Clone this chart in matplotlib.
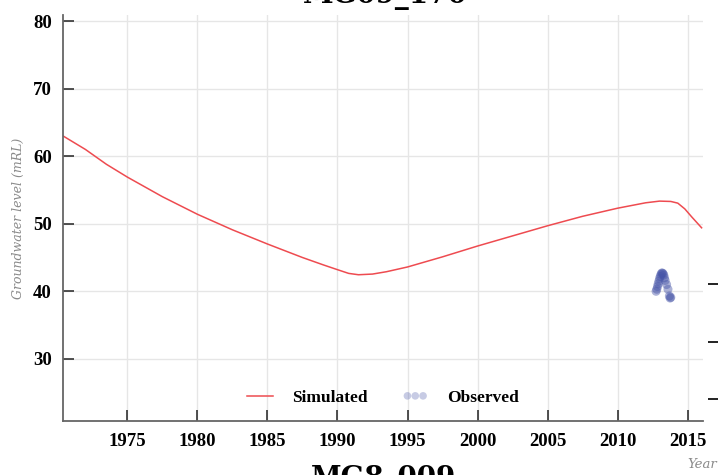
import numpy as np
import matplotlib.pyplot as plt

# simulated groundwater level
sim_years = [1970.4, 1972, 1973.5, 1975, 1977.5, 1980, 1982.5, 1985, 1987.5, 1989, 1990,
             1990.8, 1991.5, 1992.5, 1993.5, 1995, 1997.5, 2000, 2002.5, 2005, 2007.5,
             2010, 2012, 2013, 2013.8, 2014.3, 2014.8, 2015.3, 2016]
sim_level = [63.0, 61.0, 58.8, 56.9, 54.0, 51.4, 49.1, 47.0, 45.0, 43.9, 43.2,
             42.65, 42.45, 42.55, 42.9, 43.6, 45.1, 46.7, 48.2, 49.7, 51.1,
             52.3, 53.1, 53.35, 53.3, 53.05, 52.2, 51.0, 49.4]

# observed points
obs_years = [2012.75, 2012.8, 2012.85, 2012.9, 2012.95, 2013.0, 2013.05, 2013.1, 2013.15,
             2013.2, 2013.25, 2013.3, 2013.35, 2013.4, 2013.5, 2013.6, 2013.7, 2013.75, 2013.8]
obs_level = [40.0, 40.3, 40.7, 41.1, 41.5, 41.9, 42.2, 42.5, 42.7,
             42.7, 42.6, 42.4, 42.0, 41.6, 41.0, 40.3, 39.3, 39.0, 39.1]

xticks = [1975, 1980, 1985, 1990, 1995, 2000, 2005, 2010, 2015]
yticks = [30, 40, 50, 60, 70, 80]

plt.rcParams['font.family'] = 'Liberation Serif'
plt.rcParams['font.weight'] = 'bold'

W, H = 718, 475
fig = plt.figure(figsize=(W / 100, H / 100), dpi=100)
ax = fig.add_axes([63 / W, 1 - 421 / H, 640 / W, 406 / H])

ax.plot(sim_years, sim_level, color='#ee4b50', lw=1.1, label='Simulated')
ax.scatter(obs_years, obs_level, s=42, color='#4755a8', alpha=0.45,
           edgecolors='none', label='Observed')

ax.set_xlim(1970.4, 2016.1)
ax.set_ylim(20.8, 80.9)
ax.set_xticks(xticks)
ax.set_yticks(yticks)
ax.grid(True, color='#e6e6e6', lw=1)
ax.set_axisbelow(True)

for s in ['top', 'right']:
    ax.spines[s].set_visible(False)
for s in ['left', 'bottom']:
    ax.spines[s].set_color('#666666')
    ax.spines[s].set_linewidth(1.3)

ax.tick_params(direction='in', length=8, width=1.1, color='#222222', labelsize=13.5)
ax.tick_params(axis='x', pad=9)
ax.tick_params(axis='y', pad=8)

ax.set_ylabel('Groundwater level (mRL)', family='DejaVu Serif', style='italic',
              weight='normal', color='#8a8a8a', fontsize=9, labelpad=6)
fig.text(717 / W, 1 - 465 / H, 'Year', family='DejaVu Serif', style='italic',
         weight='normal', color='#8a8a8a', fontsize=9.5, ha='right', va='center')

leg = ax.legend(loc='center', bbox_to_anchor=(0.5, 0.057), ncol=2, frameon=False,
                scatterpoints=3, scatteryoffsets=[0.5], handlelength=1.5,
                handletextpad=1.1, columnspacing=2.0,
                prop={'family': 'Liberation Serif', 'weight': 'bold', 'size': 12.5})
leg.legend_handles[1].set_alpha(0.3)
leg.legend_handles[1].set_sizes([30])

# bits of neighbouring charts cut off by the crop
fig.text(385 / W, 1 - 3 / H, 'MG09_170', family='DejaVu Serif', weight='bold',
         fontsize=20, ha='center', va='baseline')
fig.text(384 / W, 1 - 465 / H, 'MG8_009', family='DejaVu Serif', weight='bold',
         fontsize=20, ha='center', va='top')
ax2 = fig.add_axes([1.0, 1 - 430 / H, 0.05, 200 / H])
ax2.set_ylim(0, 200)
ax2.set_yticks([31, 88, 146])
ax2.set_yticklabels([])
ax2.set_xticks([])
for s in ax2.spines.values():
    s.set_visible(False)
ax2.tick_params(axis='y', direction='out', length=7, width=1.3, color='#111111')

fig.savefig('out.png', dpi=100)
